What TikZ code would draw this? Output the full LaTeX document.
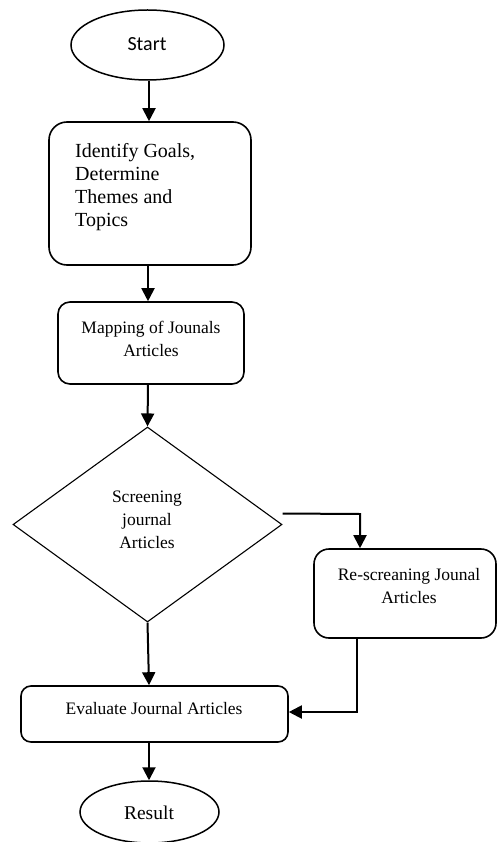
\documentclass[tikz,border=0pt]{standalone}
\usepackage{fontspec}
\setmainfont{Liberation Serif}
\newfontfamily\carlitofont{Carlito}
\usetikzlibrary{arrows.meta,shapes.geometric,calc}
\begin{document}
\begin{tikzpicture}[x=1pt,y=-1pt,
  boxshape/.style={draw,line width=1.6pt,inner sep=0pt},
  ovalshape/.style={draw,ellipse,line width=1.5pt,inner sep=0pt},
  txt/.style={inner sep=0pt,align=center,font=\fontsize{17.5}{23}\selectfont},
  flow/.style={line width=2pt,-{Triangle[length=13pt,width=13pt]}},
  plain/.style={line width=2pt}]
\useasboundingbox (0,0) rectangle (497,842);
% shapes
\node[ovalshape,minimum width=153pt,minimum height=70pt] (start) at (147.5,45) {};
\node[boxshape,rounded corners=18pt,minimum width=202pt,minimum height=143pt] (goals) at (150,193.5) {};
\node[boxshape,rounded corners=12pt,minimum width=186pt,minimum height=82pt] (map) at (151,343) {};
\node[draw,diamond,line width=1.1pt,inner sep=0pt,minimum width=269pt,minimum height=195pt] (screen) at (147.5,524.5) {};
\node[boxshape,rounded corners=15pt,minimum width=182pt,minimum height=89pt] (rescreen) at (405,593.5) {};
\node[boxshape,rounded corners=10pt,minimum width=267pt,minimum height=56pt] (eval) at (154.5,714) {};
\node[ovalshape,minimum width=139pt,minimum height=62pt] (result) at (149.5,812) {};
% texts
\node[inner sep=0pt,font=\carlitofont\fontsize{20}{24}\selectfont] (tstart) at (147,44) {Start};
\node[inner sep=0pt,align=left,anchor=west,font=\fontsize{20}{23}\selectfont] (tgoals) at (75,187) {Identify Goals,\\Determine\\Themes and\\Topics};
\node[txt] (tmap) at (151,338.5) {Mapping of Jounals\\Articles};
\node[txt] (tscreen) at (147,519.5) {Screening\\journal\\Articles};
\node[txt] (tres) at (409,586) {Re-screaning Jounal\\Articles};
\node[txt] (teval) at (154,709) {Evaluate Journal Articles};
\node[inner sep=0pt,font=\fontsize{19.5}{23}\selectfont] (tresult) at (149,813) {Result};
% connectors
\draw[flow] (start.south -| 149,0) -- (goals.north -| 149,0);
\draw[flow] (goals.south -| 148,0) -- (map.north -| 148,0);
\draw[flow] (map.south -| 148,0) -- (screen.north);
\coordinate (rA) at ($(screen.east)+(0,-11)$);
\coordinate (rB) at (360,514);
\draw[flow] (rA) -- (rB) -- (rescreen.north -| rB);
\coordinate (dA) at (357,638);
\coordinate (dB) at (357,712);
\draw[flow] (rescreen.south -| dA) -- (dB) -- (eval.east |- dB);
\draw[flow] (screen.south) -- (eval.north -| 149,0);
\draw[flow] (eval.south -| 149,0) -- (result.north -| 149,0);
\end{tikzpicture}
\end{document}
